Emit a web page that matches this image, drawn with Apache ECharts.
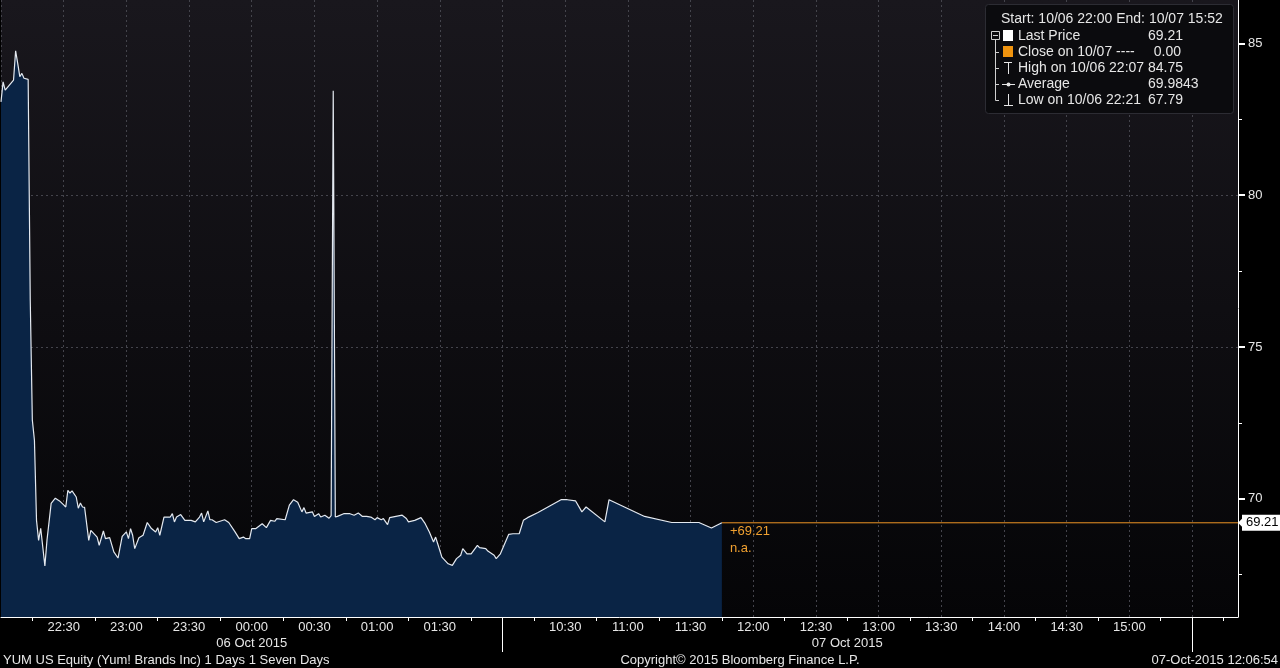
<!DOCTYPE html>
<html><head><meta charset="utf-8">
<script src="https://cdn.jsdelivr.net/npm/echarts@6/dist/echarts.min.js"></script>
<style>html,body{margin:0;padding:0;background:#000;}#c{width:1280px;height:668px;}</style>
</head><body><div id="c"></div>
<script>
// ---- data ----
const times = [
 '22:00','22:01','22:02','22:06','22:07','22:08','22:09','22:10','22:11','22:13','22:14','22:15','22:16','22:17','22:18','22:19','22:21','22:22','22:24','22:26','22:28',
 '22:30','22:31','22:32','22:33','22:34','22:36','22:37','22:38','22:39','22:40','22:42','22:43','22:46','22:47','22:49','22:50','22:52','22:54','22:56','22:58',
 '23:00','23:01','23:02','23:03','23:04','23:06','23:08','23:10','23:12','23:14','23:15','23:16','23:18','23:21','23:22','23:23','23:24','23:26','23:28',
 '23:31','23:33','23:35','23:36','23:37','23:39','23:40','23:41','23:43','23:47','23:49','23:52','23:54','23:56','23:57','23:59',
 '00:00','00:02','00:05','00:07','00:09','00:11','00:12','00:16','00:18','00:20','00:22','00:24','00:25','00:26','00:29',
 '00:30','00:32','00:33','00:35','00:37','00:38','00:39','00:40','00:41','00:44','00:47','00:49','00:51','00:53','00:55','00:57','00:59',
 '01:00','01:02','01:03','01:05','01:06','01:09','01:12','01:14','01:15','01:18','01:21','01:23','01:25','01:27','01:28','01:29',
 '01:31','01:34','01:36','01:38','01:40','01:41','01:43','01:45','01:48','01:49','01:52','01:53','01:56','01:57','01:59',
 '10:03','10:05','10:08','10:10','10:12','10:17','10:28','10:31','10:35','10:38','10:40','10:49','10:51','11:08','11:21','11:34','11:40','11:45'
];
const prices = [
 83.07,83.73,83.46,83.79,84.75,84.34,83.90,84.01,83.85,83.81,76.54,72.59,71.93,69.29,68.63,69.03,67.79,68.63,69.85,70.02,69.93,
 69.80,69.73,70.28,70.19,70.26,70.06,69.69,69.86,69.73,69.72,68.63,68.96,68.74,68.47,68.94,68.69,68.72,68.25,68.05,68.76,
 68.91,68.69,69.02,68.80,68.36,68.72,68.80,69.22,69.02,68.91,69.05,68.80,69.40,69.40,69.51,69.24,69.40,69.48,69.29,
 69.29,69.24,69.40,69.53,69.24,69.60,69.31,69.31,69.22,69.31,69.22,68.91,68.69,68.74,68.69,68.69,
 69.02,69.02,69.18,69.05,69.29,69.26,69.35,69.31,69.79,69.97,69.89,69.57,69.71,69.53,69.57,
 69.42,69.51,69.40,69.46,69.36,69.45,83.44,69.40,69.42,69.51,69.51,69.46,69.53,69.42,69.42,69.40,69.31,
 69.38,69.31,69.35,69.15,69.38,69.42,69.46,69.35,69.24,69.29,69.38,69.18,68.91,68.58,68.74,68.52,
 68.08,67.86,67.81,68.03,68.14,68.36,68.19,68.19,68.47,68.39,68.36,68.28,68.14,68.03,68.19,
 68.83,68.85,68.85,69.29,69.38,69.55,69.97,69.97,69.93,69.57,69.73,69.24,69.97,69.42,69.22,69.22,69.04,69.21
];
const lastPrice = 69.21;
const yTickValues = [70, 75, 80, 85];
const yMinorTickValues = [67.5, 72.5, 77.5, 82.5];
const sessionDates = ['06 Oct 2015', '07 Oct 2015'];
const legendHeader = 'Start: 10/06 22:00 End: 10/07 15:52';
const legendNames = ['Last Price', 'Close on 10/07 ----', 'High on 10/06 22:07', 'Average', 'Low on 10/06 22:21'];
const legendValues = ['69.21', '0.00', '84.75', '69.9843', '67.79'];
const footLeft = 'YUM US Equity (Yum! Brands Inc) 1 Days 1 Seven Days';
const footMid = 'Copyright\u00A9 2015 Bloomberg Finance L.P.';
const footRight = '07-Oct-2015 12:06:54';

// ---- session mapping: 22:00-02:00 then 10:00-15:52 on one continuous scale (minutes) ----
function toAxis(hm) {
  const p = hm.split(':').map(Number);
  const m = p[0] * 60 + p[1];
  if (p[0] >= 22) return m - 22 * 60;
  if (p[0] < 3) return m + 120;
  return m - 600 + 240;
}
function fromAxis(v) {
  let m = v < 240 ? (22 * 60 + v) % 1440 : 600 + (v - 240);
  const h = Math.floor(m / 60), mm = Math.round(m % 60);
  return String(h).padStart(2, '0') + ':' + String(mm).padStart(2, '0');
}
const X_MAX = toAxis('15:52');
const SESSION_BREAK = toAxis('10:00');
const SECOND_BREAK = toAxis('15:30');
const seriesData = times.map((t, i) => [toAxis(t), prices[i]]);
const lastX = toAxis(times[times.length - 1]);

const FONT = '"Liberation Sans", Arial, sans-serif';
const TXT = '#e6e6e6';
const ORANGE = '#ee9424';
const Y_MIN = 66.108, Y_MAX = 86.426;

const chart = echarts.init(document.getElementById('c'), null, { renderer: 'canvas' });
const gridL = 1, gridW = 1237, gridT = 0, gridH = 617;

const option = {
  backgroundColor: '#000',
  animation: false,
  textStyle: { fontFamily: FONT },
  grid: {
    left: gridL, top: gridT, width: gridW, height: gridH, show: true, borderWidth: 0,
    backgroundColor: new echarts.graphic.LinearGradient(0, 0, 0, 1, [
      { offset: 0, color: '#19171d' }, { offset: 1, color: '#050507' }
    ])
  },
  xAxis: [
    {
      type: 'value', min: 0, max: X_MAX, interval: 30,
      axisLine: { show: true, onZero: false, lineStyle: { color: '#ffffff', width: 1 } },
      axisTick: { show: false },
      minorTick: { show: false },
      splitLine: { show: true, showMinLine: true, showMaxLine: false, lineStyle: { color: '#44444c', type: [2, 3], width: 1 } },
      axisLabel: {
        color: TXT, fontSize: 13, fontFamily: FONT, margin: 4,
        showMinLabel: false, showMaxLabel: false,
        formatter: v => (v === 0 || v === SESSION_BREAK || v === SECOND_BREAK || v >= X_MAX) ? '' : fromAxis(v)
      }
    },
    {
      type: 'value', min: 0, max: X_MAX, position: 'bottom',
      axisLine: { show: false, onZero: false },
      axisTick: { show: true, length: 4, inside: false, lineStyle: { color: '#ffffff' },
        customValues: (() => { const a = []; for (let v = 15; v < X_MAX; v += 30) a.push(v); return a; })() },
      axisLabel: { show: false },
      splitLine: { show: false }
    },
    {
      type: 'value', min: 0, max: X_MAX, position: 'bottom', offset: 16,
      axisLine: { show: false, onZero: false }, axisTick: { show: false }, splitLine: { show: false },
      axisLabel: {
        color: TXT, fontSize: 13, fontFamily: FONT, margin: 4,
        customValues: [SESSION_BREAK / 2, (SESSION_BREAK + SECOND_BREAK) / 2],
        formatter: v => v < SESSION_BREAK ? sessionDates[0] : sessionDates[1]
      }
    }
  ],
  yAxis: [
    {
      type: 'value', position: 'right', min: Y_MIN, max: Y_MAX,
      axisLine: { show: true, onZero: false, lineStyle: { color: '#ffffff' } },
      axisTick: { show: true, length: 7, customValues: yTickValues, lineStyle: { color: '#ffffff', width: 2 } },
      splitLine: { show: true, showMinLine: false, showMaxLine: false, lineStyle: { color: '#44444c', type: [2, 3], width: 1 } },
      axisLabel: {
        color: TXT, fontSize: 13, fontFamily: FONT, margin: 10,
        customValues: yTickValues,
        formatter: v => String(v)
      }
    },
    {
      type: 'value', position: 'right', min: Y_MIN, max: Y_MAX,
      axisLine: { show: false, onZero: false },
      axisTick: { show: true, length: 4, customValues: yMinorTickValues, lineStyle: { color: '#ffffff', width: 1 } },
      splitLine: { show: false },
      axisLabel: { show: false }
    }
  ],
  series: [
    {
      type: 'line', data: seriesData, showSymbol: false, symbol: 'none',
      lineStyle: { color: '#e4e9f0', width: 1.2 },
      areaStyle: { color: '#0a2445', opacity: 1, origin: 'start' }
    },
    {
      type: 'line', data: [[lastX, lastPrice], [X_MAX, lastPrice]], showSymbol: false, symbol: 'none',
      lineStyle: { color: ORANGE, width: 1 }, z: 3,
      endLabel: { show: true, distance: 4, color: '#000', backgroundColor: '#ffffff', fontSize: 13, fontFamily: FONT,
                  padding: [2, 4, 1, 4], formatter: () => lastPrice.toFixed(2) }
    }
  ],
  graphic: []
};
chart.setOption(option);

// ---- decorations: session separators, last-price notes, legend box, footer ----
const g = [];
[SESSION_BREAK, SECOND_BREAK].forEach((v, i) => {
  const px = Math.round(chart.convertToPixel({ xAxisIndex: 0 }, v)) + 0.5;
  g.push({ type: 'line', id: 'sep' + i, shape: { x1: px, y1: gridT + gridH, x2: px, y2: 652 }, style: { stroke: '#ffffff', lineWidth: 1 }, z: 100 });
});
const lp = chart.convertToPixel({ xAxisIndex: 0, yAxisIndex: 0 }, [lastX, lastPrice]);
g.push({ type: 'polygon', id: 'lpnotch', shape: { points: [[1238, lp[1]], [1243, lp[1] - 5], [1243, lp[1] + 5]] }, style: { fill: '#ffffff' }, z: 100 });
g.push({ type: 'text', id: 'lpt1', x: lp[0] + 8, y: lp[1] + 9, style: { text: '+' + lastPrice.toFixed(2), fill: '#f0a030', font: '13px ' + FONT, verticalAlign: 'middle' }, z: 100 });
g.push({ type: 'text', id: 'lpt2', x: lp[0] + 8, y: lp[1] + 26, style: { text: 'n.a.', fill: '#f0a030', font: '13px ' + FONT, verticalAlign: 'middle' }, z: 100 });
// legend
const LX = 985, LY = 4;
g.push({ type: 'rect', id: 'lbox', shape: { x: LX + 0.5, y: LY + 0.5, width: 248, height: 109, r: 3 }, style: { fill: '#0b0b0e', stroke: '#2c2c33', lineWidth: 1 }, z: 90 });
g.push({ type: 'text', id: 'lhead', x: 1001, y: 19, style: { text: legendHeader, fill: TXT, font: '14px ' + FONT, verticalAlign: 'middle' }, z: 91 });
const rowY = [36, 52, 68, 84, 100];
legendNames.forEach((n, i) => {
  g.push({ type: 'text', id: 'ln' + i, x: 1018, y: rowY[i], style: { text: n, fill: TXT, font: '14px ' + FONT, verticalAlign: 'middle' }, z: 91 });
  g.push({ type: 'text', id: 'lv' + i, x: i === 1 ? 1181 : 1148, y: rowY[i], style: { text: legendValues[i], fill: TXT, font: '14px ' + FONT, verticalAlign: 'middle', align: i === 1 ? 'right' : 'left' }, z: 91 });
});
// tree connectors
g.push({ type: 'polyline', id: 'tree', shape: { points: [[995.5, 40], [995.5, 100.5], [999, 100.5]] }, style: { stroke: '#cfcfcf', lineWidth: 1, fill: null }, z: 91 });
[52, 68, 84].forEach((y, i) => g.push({ type: 'line', id: 'tb' + i, shape: { x1: 995.5, y1: y + 0.5, x2: 999, y2: y + 0.5 }, style: { stroke: '#cfcfcf' }, z: 91 }));
g.push({ type: 'rect', id: 'minusbox', shape: { x: 991.5, y: 31.5, width: 8, height: 8 }, style: { fill: '#0b0b0e', stroke: '#cfcfcf' }, z: 92 });
g.push({ type: 'line', id: 'minus', shape: { x1: 993, y1: 35.5, x2: 998, y2: 35.5 }, style: { stroke: '#cfcfcf' }, z: 93 });
g.push({ type: 'rect', id: 'ic0', shape: { x: 1003, y: 30, width: 10, height: 11 }, style: { fill: '#ffffff' }, z: 91 });
g.push({ type: 'rect', id: 'ic1', shape: { x: 1003, y: 46, width: 10, height: 11 }, style: { fill: '#f0940f' }, z: 91 });
g.push({ type: 'line', id: 'ic2a', shape: { x1: 1004, y1: 62.5, x2: 1012, y2: 62.5 }, style: { stroke: '#e6e6e6', lineWidth: 1 }, z: 91 });
g.push({ type: 'line', id: 'ic2b', shape: { x1: 1008.5, y1: 62, x2: 1008.5, y2: 74 }, style: { stroke: '#e6e6e6', lineWidth: 1 }, z: 91 });
g.push({ type: 'line', id: 'ic3a', shape: { x1: 1002, y1: 84.5, x2: 1015, y2: 84.5 }, style: { stroke: '#e6e6e6', lineWidth: 1 }, z: 91 });
g.push({ type: 'circle', id: 'ic3b', shape: { cx: 1008.5, cy: 84.5, r: 2 }, style: { fill: '#e6e6e6' }, z: 91 });
g.push({ type: 'line', id: 'ic4a', shape: { x1: 1008.5, y1: 94, x2: 1008.5, y2: 105 }, style: { stroke: '#e6e6e6', lineWidth: 1 }, z: 91 });
g.push({ type: 'line', id: 'ic4b', shape: { x1: 1004, y1: 105.5, x2: 1013, y2: 105.5 }, style: { stroke: '#e6e6e6', lineWidth: 1 }, z: 91 });
// footer
g.push({ type: 'text', id: 'f0', x: 3, y: 660, style: { text: footLeft, fill: TXT, font: '13px ' + FONT, verticalAlign: 'middle' }, z: 91 });
g.push({ type: 'text', id: 'f1', x: 740, y: 660, style: { text: footMid, fill: TXT, font: '13px ' + FONT, verticalAlign: 'middle', align: 'center' }, z: 91 });
g.push({ type: 'text', id: 'f2', x: 1278, y: 660, style: { text: footRight, fill: TXT, font: '13px ' + FONT, verticalAlign: 'middle', align: 'right' }, z: 91 });
chart.setOption({ graphic: g });
</script></body></html>
